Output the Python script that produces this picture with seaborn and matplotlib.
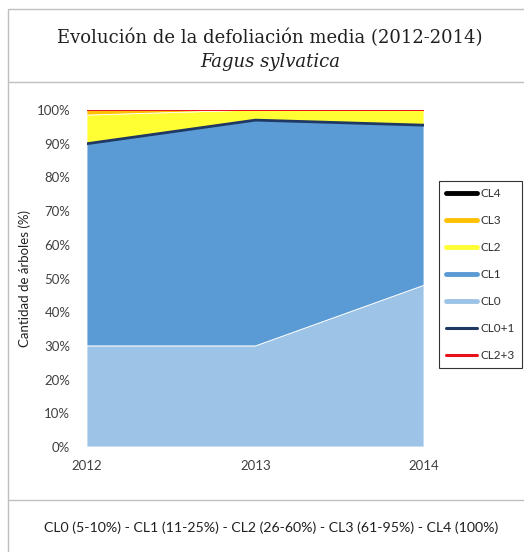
import matplotlib
matplotlib.use("Agg")
import matplotlib.pyplot as plt
import seaborn as sns
import pandas as pd
from matplotlib.lines import Line2D
from matplotlib.patches import Rectangle

years = [2012, 2013, 2014]
cl0 = [30.0, 30.0, 48.0]
cl1 = [60.0, 67.0, 47.5]
cl2 = [8.5, 3.0, 4.5]
cl3 = [1.5, 0.0, 0.0]
cl4 = [0.0, 0.0, 0.0]
yticks = [0, 10, 20, 30, 40, 50, 60, 70, 80, 90, 100]

c_cl0 = "#9DC3E6"
c_cl1 = "#5B9BD5"
c_cl2 = "#FFFF33"
c_cl3 = "#FFC000"
c_cl4 = "#000000"
c_01 = "#1F3864"
c_23 = "#E8101A"

sns.set_style("white")
plt.rcParams['font.family'] = ['Lato', 'DejaVu Sans']

fig = plt.figure(figsize=(5.24, 5.52), dpi=100)
W, H = 524, 552
ax = fig.add_axes([87 / W, 1 - 447 / H, (424 - 87) / W, 337 / H])

ax.stackplot(years, cl0, cl1, cl2, cl3, cl4,
             colors=[c_cl0, c_cl1, c_cl2, c_cl3, c_cl4],
             edgecolor=["white", "none", "none", "none", "none"], linewidth=0.6)

df = pd.DataFrame({"year": years,
                   "s01": [a + b for a, b in zip(cl0, cl1)],
                   "s23": [a + b + c + d for a, b, c, d in zip(cl0, cl1, cl2, cl3)]})
sns.lineplot(data=df, x="year", y="s01", ax=ax, color=c_01, linewidth=2)
sns.lineplot(data=df, x="year", y="s23", ax=ax, color=c_23, linewidth=1.4)

ax.set_xlim(2012, 2014)
ax.set_ylim(0, 100)
ax.set_yticks(yticks)
ax.set_yticklabels([f"{t}%" for t in yticks])
ax.set_xticks(years)
ax.set_xticklabels([str(y) for y in years])
ax.tick_params(axis="both", labelsize=9.5, colors="#404040", length=0)
ax.tick_params(axis="y", pad=12)
ax.tick_params(axis="x", pad=9)
for s in ax.spines.values():
    s.set_visible(False)
ax.set_xlabel("")
ax.set_ylabel("Cantidad de árboles (%)", fontsize=9.5, color="#202020", labelpad=4)

handles = [Line2D([], [], color=c, linewidth=3.5) for c in
           [c_cl4, c_cl3, c_cl2, c_cl1, c_cl0]] + \
          [Line2D([], [], color=c_01, linewidth=2.2), Line2D([], [], color=c_23, linewidth=2.2)]
labels = ["CL4", "CL3", "CL2", "CL1", "CL0", "CL0+1", "CL2+3"]
leg = fig.legend(handles, labels, loc="upper left",
                 bbox_to_anchor=(439 / W, 1 - 181 / H),
                 frameon=True, fancybox=False, fontsize=8.5,
                 handlelength=2.6, handletextpad=0.3, labelspacing=1.35,
                 borderpad=0.6, borderaxespad=0)
leg.get_frame().set_edgecolor("black")
leg.get_frame().set_linewidth(0.8)
for t in leg.get_texts():
    t.set_color("#303030")

# boxes
def hline(y, x0=8, x1=524):
    fig.add_artist(Line2D([x0 / W, x1 / W], [1 - y / H, 1 - y / H], color="#BFBFBF", linewidth=1))

fig.add_artist(Rectangle((8 / W, -0.01), 1, 1 - 9 / H + 0.01, fill=False,
                         edgecolor="#BFBFBF", linewidth=1, transform=fig.transFigure))
hline(82)
hline(500)

fig.text(270 / W, 1 - 38 / H, "Evolución de la defoliación media (2012-2014)",
         ha="center", va="center", fontsize=13, family="DejaVu Serif", color="#202020")
fig.text(270 / W, 1 - 62 / H, "Fagus sylvatica", ha="center", va="center",
         fontsize=13, family="DejaVu Serif", style="italic", color="#202020")
fig.text(271 / W, 1 - 528 / H,
         "CL0 (5-10%) - CL1 (11-25%) - CL2 (26-60%) - CL3 (61-95%) - CL4 (100%)",
         ha="center", va="center", fontsize=10.2, color="#202020")

fig.savefig("out.png", dpi=100)
